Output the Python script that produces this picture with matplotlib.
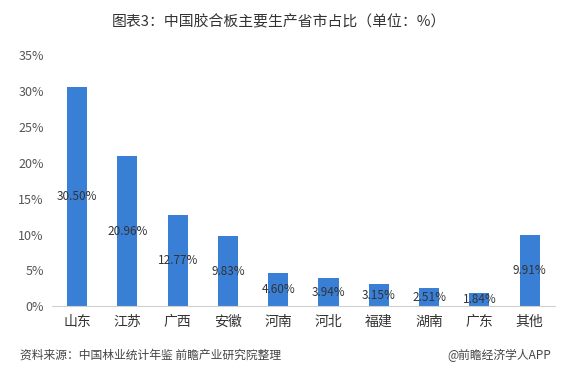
import matplotlib
matplotlib.use("Agg")
import matplotlib.pyplot as plt
import numpy as np

plt.rcParams['font.family'] = ['Noto Sans CJK SC', 'DejaVu Sans']

provinces = ['山东', '江苏', '广西', '安徽', '河南', '河北', '福建', '湖南', '广东', '其他']
shares = [30.50, 20.96, 12.77, 9.83, 4.60, 3.94, 3.15, 2.51, 1.84, 9.91]
yticks = [0, 5, 10, 15, 20, 25, 30, 35]

fig = plt.figure(figsize=(5.65, 3.75), dpi=100)
ax = fig.add_axes([0.092, 0.183, 0.89, 0.67])

x = np.arange(len(provinces))
bars = ax.bar(x, shares, width=0.4, color='#3a7fd6')
for xi, v in zip(x, shares):
    ax.text(xi, v / 2, f"{v:.2f}%", ha='center', va='center', fontsize=8.5, color='#333333')

ax.set_ylim(0, 35)
ax.set_xlim(-0.5, len(provinces) - 0.5)
ax.set_yticks(yticks)
ax.set_yticklabels([f"{t}%" for t in yticks], fontsize=9, color='#555555')
ax.set_xticks(x)
ax.set_xticklabels(provinces, fontsize=10, color='#333333')
ax.tick_params(axis='both', length=0, pad=6)
for s in ['top', 'right', 'left']:
    ax.spines[s].set_visible(False)
ax.spines['bottom'].set_color('#d0d0d0')

fig.text(0.494, 0.94, '图表3：中国胶合板主要生产省市占比（单位：%）', ha='center', va='center',
         fontsize=10.7, color='#333333')
fig.text(0.035, 0.053, '资料来源：中国林业统计年鉴 前瞻产业研究院整理', ha='left', va='center',
         fontsize=8.5, color='#444444', style='italic')
fig.text(0.975, 0.053, '@前瞻经济学人APP', ha='right', va='center', fontsize=8.5, color='#444444')

fig.savefig('out.png', dpi=100)
